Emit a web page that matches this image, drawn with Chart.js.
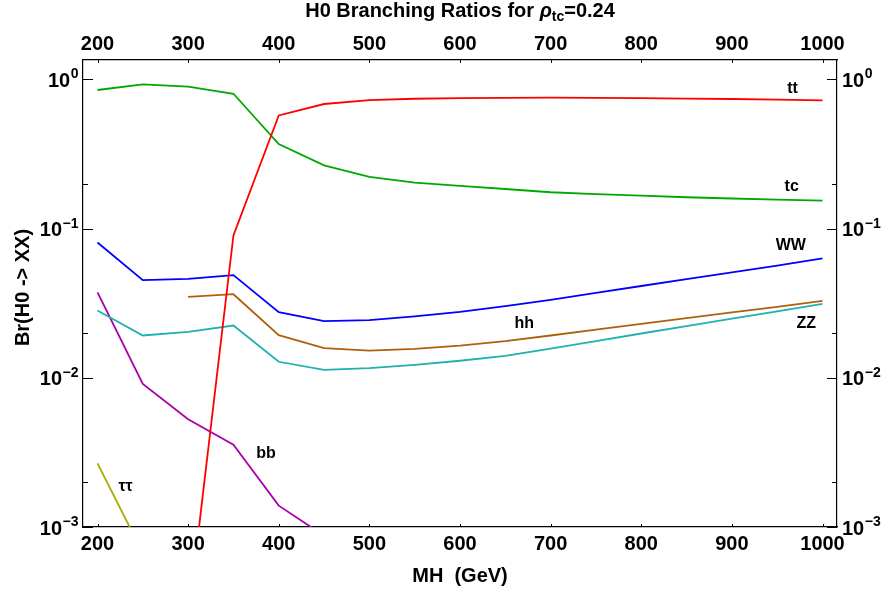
<!DOCTYPE html>
<html>
<head>
<meta charset="utf-8">
<script src="https://cdn.jsdelivr.net/npm/chart.js@4.4.0/dist/chart.umd.min.js"></script>
<style>
  html, body { margin: 0; padding: 0; background: #fff; }
  #wrap { width: 884px; height: 594px; }
</style>
</head>
<body>
<div id="wrap"><canvas id="br-chart" width="884" height="594"></canvas></div>
<script>
// H0 masses (GeV)
const mass = [200, 250, 300, 350, 400, 450, 500, 550, 600, 650, 700, 750, 800, 850, 900, 950, 1000];

// branching ratios
const brTT = [null, null, 0.00024, 0.090, 0.573, 0.683, 0.726, 0.741, 0.749, 0.752, 0.753, 0.751, 0.747, 0.743, 0.738, 0.731, 0.723];
const brTC = [0.848, 0.926, 0.892, 0.800, 0.368, 0.265, 0.222, 0.203, 0.193, 0.184, 0.175, 0.170, 0.166, 0.162, 0.159, 0.156, 0.154];
const brWW = [0.0807, 0.0451, 0.0460, 0.0487, 0.0275, 0.0240, 0.0243, 0.0258, 0.0276, 0.0302, 0.0333, 0.0370, 0.0412, 0.0458, 0.0509, 0.0565, 0.0630];
const brHH = [null, null, 0.0348, 0.0363, 0.0193, 0.0158, 0.0152, 0.0156, 0.0164, 0.0176, 0.0192, 0.0210, 0.0230, 0.0251, 0.0274, 0.0299, 0.0327];
const brZZ = [0.0282, 0.0192, 0.0203, 0.0224, 0.0128, 0.0113, 0.0116, 0.0122, 0.0130, 0.0140, 0.0157, 0.0176, 0.0198, 0.0222, 0.0249, 0.0279, 0.0313];
const brBB = [0.0374, 0.00908, 0.00527, 0.00356, 0.00139, 0.000875, null, null, null, null, null, null, null, null, null, null, null];
const brTauTau = [0.00267, 0.00067, null, null, null, null, null, null, null, null, null, null, null, null, null, null, null];

// axis ticks
const xTicks = [200, 300, 400, 500, 600, 700, 800, 900, 1000];
const yTicks = [1e-3, 1e-2, 1e-1, 1];
const yExponents = ["\u22123", "\u22122", "\u22121", "0"];
const yMinorTicks = [2e-3, 2e-2, 2e-1];

// curve names and where they sit (data coords)
const curveNames = ["tt", "tc", "WW", "hh", "ZZ", "bb", "\u03c4\u03c4"];
const nameMass = [967, 966, 965, 671, 982, 386, 231];
const nameBr = [0.868, 0.192, 0.0774, 0.0230, 0.0229, 0.00312, 0.00187];

const FONT = "'Liberation Sans', Arial, Helvetica, sans-serif";

function series(values, color) {
  return {
    data: mass.map((m, i) => ({ x: m, y: values[i] })),
    borderColor: color,
    borderWidth: 1.8,
    tension: 0,
    pointRadius: 0,
    pointHoverRadius: 0,
    spanGaps: false,
    fill: false,
    xAxisID: "x",
    yAxisID: "y",
  };
}

const decor = {
  id: "decor",
  beforeDraw(chart) {
    const ctx = chart.ctx;
    ctx.save();
    ctx.fillStyle = "#fff";
    ctx.fillRect(0, 0, chart.width, chart.height);
    ctx.restore();
  },
  afterDraw(chart) {
    const ctx = chart.ctx;
    const xs = chart.scales.x, ys = chart.scales.y;
    const area = chart.chartArea;
    ctx.save();

    // inward ticks
    ctx.strokeStyle = "#000";
    ctx.lineWidth = 1;
    ctx.beginPath();
    xTicks.forEach((v) => {
      const px = Math.round(xs.getPixelForValue(v)) + 0.5;
      ctx.moveTo(px, area.bottom); ctx.lineTo(px, area.bottom - 3);
      ctx.moveTo(px, area.top); ctx.lineTo(px, area.top + 3);
    });
    yTicks.forEach((v) => {
      const py = Math.round(ys.getPixelForValue(v)) + 0.5;
      ctx.moveTo(area.left, py); ctx.lineTo(area.left + 10, py);
      ctx.moveTo(area.right, py); ctx.lineTo(area.right - 10, py);
    });
    yMinorTicks.forEach((v) => {
      const py = Math.round(ys.getPixelForValue(v)) + 0.5;
      ctx.moveTo(area.left, py); ctx.lineTo(area.left + 5, py);
      ctx.moveTo(area.right, py); ctx.lineTo(area.right - 5, py);
    });
    ctx.stroke();

    ctx.fillStyle = "#000";

    // x tick labels, top and bottom
    ctx.font = "bold 20px " + FONT;
    ctx.textAlign = "center";
    ctx.textBaseline = "alphabetic";
    xTicks.forEach((v) => {
      const px = xs.getPixelForValue(v);
      ctx.fillText(String(v), px, 550);
      ctx.fillText(String(v), px, 50);
    });

    // y tick labels 10^k, left and right
    yTicks.forEach((v, i) => {
      const py = ys.getPixelForValue(v);
      ctx.font = "bold 14px " + FONT;
      const ew = ctx.measureText(yExponents[i]).width;
      ctx.font = "bold 20px " + FONT;
      const bw = ctx.measureText("10").width;
      // left side, right aligned
      const lx = area.left - 5 - ew - bw;
      ctx.textAlign = "left";
      ctx.fillText("10", lx, py + 7.5);
      ctx.font = "bold 14px " + FONT;
      ctx.fillText(yExponents[i], lx + bw + 0.5, py - 1);
      // right side
      const rx = area.right + 5;
      ctx.font = "bold 20px " + FONT;
      ctx.fillText("10", rx, py + 7.5);
      ctx.font = "bold 14px " + FONT;
      ctx.fillText(yExponents[i], rx + bw + 0.5, py - 1);
    });

    // title with rho_tc
    const cx = (area.left + area.right) / 2;
    const p1 = "H0 Branching Ratios for ", p3 = "=0.24";
    ctx.font = "bold 20px " + FONT;
    const w1 = ctx.measureText(p1).width, w3 = ctx.measureText(p3).width;
    ctx.font = "italic bold 20px " + FONT;
    const wr = ctx.measureText("\u03c1").width;
    ctx.font = "bold 14px " + FONT;
    const ws = ctx.measureText("tc").width;
    let tx = cx - (w1 + wr + ws + w3) / 2;
    ctx.textAlign = "left";
    ctx.font = "bold 20px " + FONT;
    ctx.fillText(p1, tx, 17); tx += w1;
    ctx.font = "italic bold 20px " + FONT;
    ctx.fillText("\u03c1", tx, 17); tx += wr;
    ctx.font = "bold 14px " + FONT;
    ctx.fillText("tc", tx, 21); tx += ws;
    ctx.font = "bold 20px " + FONT;
    ctx.fillText(p3, tx, 17);

    // axis titles
    ctx.textAlign = "center";
    ctx.fillText("MH  (GeV)", cx, 582);
    ctx.save();
    ctx.translate(29, (area.top + area.bottom) / 2 - 6);
    ctx.rotate(-Math.PI / 2);
    ctx.fillText("Br(H0 -> XX)", 0, 0);
    ctx.restore();

    // curve names
    ctx.font = "bold 16px " + FONT;
    ctx.textAlign = "center";
    ctx.textBaseline = "middle";
    curveNames.forEach((name, i) => {
      ctx.fillText(name, xs.getPixelForValue(nameMass[i]), ys.getPixelForValue(nameBr[i]));
    });

    ctx.restore();
  },
};

const axisBase = {
  grid: { display: false },
  border: { display: true, color: "#000", width: 1.2 },
  ticks: { display: false },
};

const config = {
  type: "line",
  data: {
    datasets: [
      series(brTT, "#ff0000"),
      series(brTC, "#00a800"),
      series(brWW, "#0000ff"),
      series(brHH, "#b0600c"),
      series(brZZ, "#1fb0b0"),
      series(brBB, "#aa00aa"),
      series(brTauTau, "#aaaa00"),
    ],
  },
  options: {
    responsive: false,
    animation: false,
    events: [],
    layout: { padding: 0 },
    plugins: {
      legend: { display: false },
      title: { display: false },
      tooltip: { enabled: false },
    },
    scales: {
      x: {
        ...axisBase,
        type: "linear",
        position: "bottom",
        min: 184,
        max: 1016,
        afterBuildTicks: (s) => { s.ticks = xTicks.map((v) => ({ value: v })); },
        afterFit: (s) => { s.height = 67; },
      },
      x2: {
        ...axisBase,
        type: "linear",
        position: "top",
        min: 184,
        max: 1016,
        afterBuildTicks: (s) => { s.ticks = xTicks.map((v) => ({ value: v })); },
        afterFit: (s) => { s.height = 60; },
      },
      y: {
        ...axisBase,
        type: "logarithmic",
        position: "left",
        min: 1e-3,
        max: 1.347,
        afterBuildTicks: (s) => { s.ticks = yTicks.map((v) => ({ value: v })); },
        afterFit: (s) => { s.width = 83; },
      },
      y2: {
        ...axisBase,
        type: "logarithmic",
        position: "right",
        min: 1e-3,
        max: 1.347,
        afterBuildTicks: (s) => { s.ticks = yTicks.map((v) => ({ value: v })); },
        afterFit: (s) => { s.width = 47; },
      },
    },
  },
  plugins: [decor],
};

const brChart = new Chart(document.getElementById("br-chart"), config);
</script>
</body>
</html>
